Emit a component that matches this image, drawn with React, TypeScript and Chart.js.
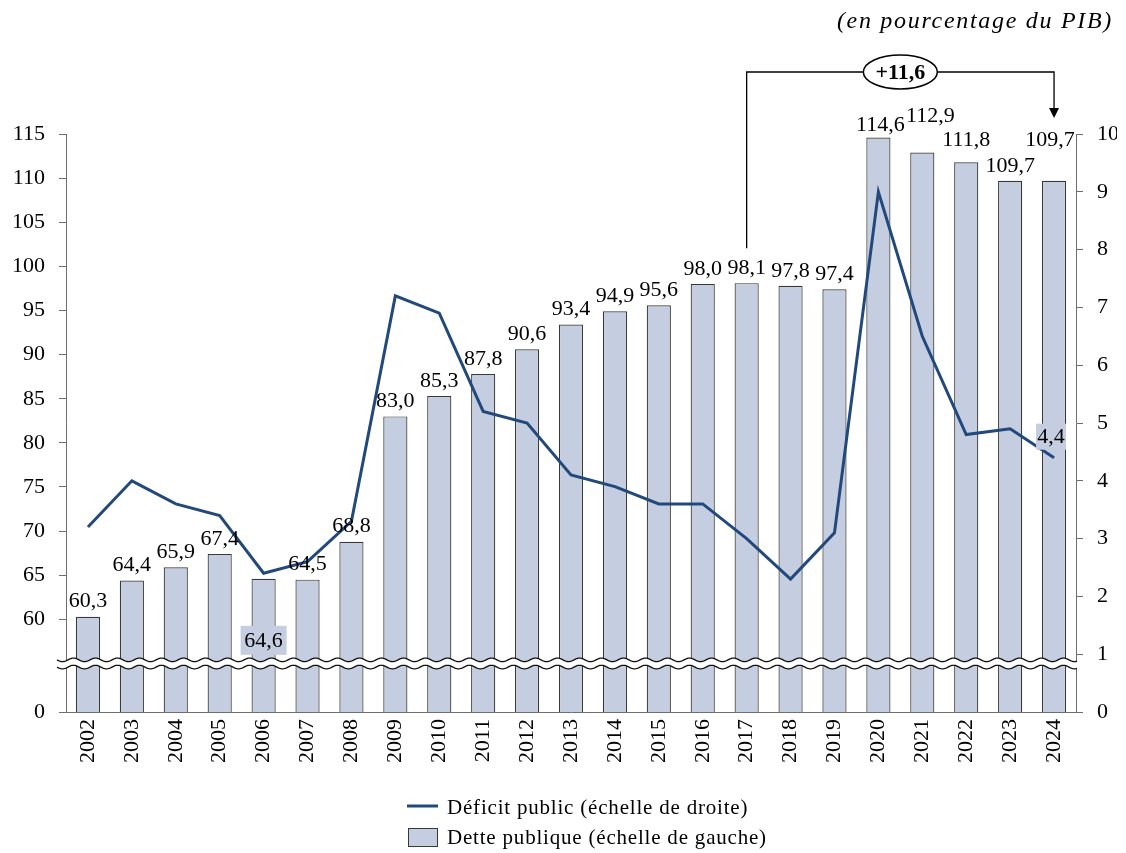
import React, { useEffect, useRef } from "react";
import { Chart, registerables } from "chart.js";

Chart.register(...registerables);

// Années
const years = [
  "2002", "2003", "2004", "2005", "2006", "2007", "2008", "2009", "2010", "2011", "2012", "2013",
  "2014", "2015", "2016", "2017", "2018", "2019", "2020", "2021", "2022", "2023", "2024",
];

// Dette publique, en % du PIB (échelle de gauche)
const debt = [
  60.3, 64.4, 65.9, 67.4, 64.6, 64.5, 68.8, 83.0, 85.3, 87.8, 90.6, 93.4,
  94.9, 95.6, 98.0, 98.1, 97.8, 97.4, 114.6, 112.9, 111.8, 109.7, 109.7,
];

// Déficit public, en % du PIB (échelle de droite)
const deficit = [
  3.2, 4.0, 3.6, 3.4, 2.4, 2.6, 3.3, 7.2, 6.9, 5.2, 5.0, 4.1,
  3.9, 3.6, 3.6, 3.0, 2.3, 3.1, 9.0, 6.5, 4.8, 4.9, 4.4,
];

// Graduations de l'échelle de gauche (au-dessus de la rupture)
const leftTicks = [60, 65, 70, 75, 80, 85, 90, 95, 100, 105, 110, 115];
// Bas de l'échelle de gauche, affiché « 0 » sous la rupture
const leftFloor = 49.5;
const breakValue = 55;

// Période comparée dans l'encadré
const fromYear = "2017";
const toYear = "2024";

const FONT = "'Liberation Serif', 'Times New Roman', serif";
const BAR_FILL = "#c5cee0";
const BAR_EDGE = "#383838";
const LINE = "#22497c";
const AXIS = "#6e6e6e";

const fmt = (v: number) => v.toFixed(1).replace(".", ",");

const decor = {
  id: "decor",
  afterDatasetsDraw(chart: any) {
    const { ctx, chartArea } = chart;
    const ys = chart.scales.y;

    // Rupture d'échelle : deux lignes ondulées sur fond blanc
    const yc = ys.getPixelForValue(breakValue);
    const x0 = chartArea.left - 9;
    const x1 = chartArea.right + 1;
    const A = 1.8;
    const P = 22;
    const wy = (x: number, off: number) => yc + off + A * Math.sin(((x - x0) / P) * Math.PI * 2);
    ctx.save();
    ctx.beginPath();
    for (let x = x0; x <= x1; x++) {
      const y = wy(x, -3.6);
      if (x === x0) ctx.moveTo(x, y);
      else ctx.lineTo(x, y);
    }
    for (let x = x1; x >= x0; x--) ctx.lineTo(x, wy(x, 3.6));
    ctx.closePath();
    ctx.fillStyle = "#ffffff";
    ctx.fill();
    ctx.strokeStyle = "#111";
    ctx.lineWidth = 1.3;
    for (const off of [-3.6, 3.6]) {
      ctx.beginPath();
      for (let x = x0; x <= x1; x++) {
        const y = wy(x, off);
        if (x === x0) ctx.moveTo(x, y);
        else ctx.lineTo(x, y);
      }
      ctx.stroke();
    }

    // Étiquettes de valeur des barres
    const shifts: Record<string, [number, number]> = {
      "2020": [2, 3],
      "2021": [8, -21],
      "2022": [0, -7],
      "2024": [-4, -26],
    };
    const barMeta = chart.getDatasetMeta(1);
    ctx.font = `22px ${FONT}`;
    ctx.textAlign = "center";
    ctx.textBaseline = "middle";
    barMeta.data.forEach((bar: any, i: number) => {
      const label = fmt(debt[i]);
      if (years[i] === "2006") {
        // étiquette placée dans la barre, sur fond encadré
        const cx = bar.x;
        const cy = ys.getPixelForValue(60) + 21;
        ctx.fillStyle = BAR_FILL;
        ctx.fillRect(cx - 23, cy - 14.5, 46, 29);
        ctx.fillStyle = "#000";
        ctx.fillText(label, cx, cy + 1);
        return;
      }
      const [dx, dy] = shifts[years[i]] || [0, 0];
      ctx.fillStyle = "#000";
      ctx.fillText(label, bar.x + dx, bar.y - 15 + dy);
    });

    // Étiquette du dernier point du déficit
    const lineMeta = chart.getDatasetMeta(0);
    const last = lineMeta.data[lineMeta.data.length - 1];
    const lx = last.x - 3;
    const ly = last.y - 21;
    ctx.fillStyle = BAR_FILL;
    ctx.fillRect(lx - 15, ly - 13, 30, 26);
    ctx.fillStyle = "#000";
    ctx.fillText(fmt(deficit[deficit.length - 1]), lx, ly + 1);
    ctx.restore();
  },
  afterDraw(chart: any) {
    const { ctx } = chart;
    const xs = chart.scales.x;
    const barMeta = chart.getDatasetMeta(1);
    ctx.save();

    // Titre
    ctx.font = `italic 24px ${FONT}`;
    (ctx as any).letterSpacing = "1.7px";
    ctx.fillStyle = "#000";
    ctx.textAlign = "right";
    ctx.textBaseline = "middle";
    ctx.fillText("(en pourcentage du PIB)", 1113, 22);
    (ctx as any).letterSpacing = "0px";

    // Encadré de variation entre deux années
    const i1 = years.indexOf(fromYear);
    const i2 = years.indexOf(toYear);
    const xa = xs.getPixelForValue(i1);
    const xb = xs.getPixelForValue(i2);
    const yTop = 72;
    const yStart = barMeta.data[i1].y - 35;
    const yTip = 118;
    ctx.strokeStyle = "#000";
    ctx.lineWidth = 1.3;
    ctx.beginPath();
    ctx.moveTo(xa, yStart);
    ctx.lineTo(xa, yTop);
    ctx.lineTo(xb, yTop);
    ctx.lineTo(xb, yTip - 9);
    ctx.stroke();
    ctx.beginPath();
    ctx.moveTo(xb - 5, yTip - 10);
    ctx.lineTo(xb + 5, yTip - 10);
    ctx.lineTo(xb, yTip);
    ctx.closePath();
    ctx.fillStyle = "#000";
    ctx.fill();

    const cx = (xa + xb) / 2;
    ctx.beginPath();
    ctx.ellipse(cx, yTop, 37, 17, 0, 0, Math.PI * 2);
    ctx.fillStyle = "#fff";
    ctx.fill();
    ctx.lineWidth = 1.5;
    ctx.stroke();
    const delta = debt[i2] - debt[i1];
    ctx.font = `bold 22px ${FONT}`;
    ctx.fillStyle = "#000";
    ctx.textAlign = "center";
    ctx.fillText((delta >= 0 ? "+" : "") + fmt(delta), cx, yTop + 1);

    // Légende
    const lx = 407;
    ctx.font = `21px ${FONT}`;
    (ctx as any).letterSpacing = "0.8px";
    ctx.textAlign = "left";
    ctx.strokeStyle = LINE;
    ctx.lineWidth = 3;
    ctx.beginPath();
    ctx.moveTo(lx, 806);
    ctx.lineTo(lx + 31, 806);
    ctx.stroke();
    ctx.fillStyle = "#000";
    ctx.fillText("Déficit public (échelle de droite)", lx + 40, 808);

    ctx.fillStyle = BAR_FILL;
    ctx.fillRect(lx + 1, 828, 30, 19);
    ctx.strokeStyle = BAR_EDGE;
    ctx.lineWidth = 1;
    ctx.strokeRect(lx + 1.5, 828.5, 29, 18);
    ctx.fillStyle = "#000";
    ctx.fillText("Dette publique (échelle de gauche)", lx + 40, 838);
    ctx.restore();
  },
};

export default function App() {
  const ref = useRef<HTMLCanvasElement>(null);

  useEffect(() => {
    const tickFont = { family: FONT, size: 22 };
    const chart = new Chart(ref.current!, {
      type: "bar",
      data: {
        labels: years,
        datasets: [
          {
            type: "line",
            label: "Déficit public (échelle de droite)",
            data: deficit,
            yAxisID: "y1",
            borderColor: LINE,
            backgroundColor: LINE,
            borderWidth: 3,
            pointRadius: 0,
            tension: 0,
            order: 0,
          } as any,
          {
            type: "bar",
            label: "Dette publique (échelle de gauche)",
            data: debt,
            yAxisID: "y",
            backgroundColor: BAR_FILL,
            borderColor: BAR_EDGE,
            borderWidth: 1.2,
            barPercentage: 0.55,
            categoryPercentage: 1,
            order: 1,
          },
        ],
      },
      options: {
        responsive: false,
        animation: false,
        layout: { padding: { left: 14, right: 9, top: 134, bottom: 91 } },
        plugins: { legend: { display: false }, tooltip: { enabled: false } },
        scales: {
          x: {
            offset: true,
            afterFit: (s: any) => {
              s.height = 50;
            },
            grid: { display: false, drawTicks: false, tickLength: 0 },
            border: { display: true, color: AXIS },
            ticks: {
              font: { family: FONT, size: 22 },
              color: "#000",
              minRotation: 90,
              maxRotation: 90,
              autoSkip: false,
              padding: 7,
            },
          },
          y: {
            position: "left",
            min: leftFloor,
            max: 115,
            afterFit: (s: any) => {
              s.width = 52;
            },
            afterBuildTicks: (scale: any) => {
              scale.ticks = [leftFloor, ...leftTicks].map((v) => ({ value: v }));
            },
            ticks: {
              font: tickFont,
              color: "#000",
              padding: 14,
              callback: (v: any) => (v === leftFloor ? "0" : String(v)),
            },
            grid: { drawOnChartArea: false, drawTicks: true, tickLength: 7, color: AXIS },
            border: { display: true, color: AXIS },
          },
          y1: {
            position: "right",
            min: 0,
            max: 10,
            afterFit: (s: any) => {
              s.width = 41;
            },
            ticks: { stepSize: 1, font: tickFont, color: "#000", padding: 14 },
            grid: { drawOnChartArea: false, drawTicks: true, tickLength: 7, color: AXIS },
            border: { display: true, color: AXIS },
          },
        },
      },
      plugins: [decor],
    });
    return () => chart.destroy();
  }, []);

  return (
    <div style={{ position: "absolute", left: 0, top: 0, width: 1126, height: 853, background: "#fff" }}>
      <canvas ref={ref} width={1126} height={853} style={{ display: "block" }} />
    </div>
  );
}
